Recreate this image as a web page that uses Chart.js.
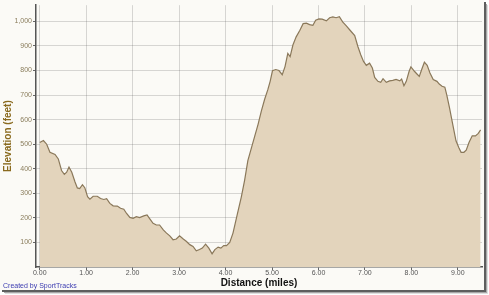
<!DOCTYPE html>
<html>
<head>
<meta charset="utf-8">
<script src="https://cdn.jsdelivr.net/npm/chart.js@4"></script>
<style>
html,body{margin:0;padding:0;background:#fff;}
#wrap{width:489px;height:295px;position:relative;}
</style>
</head>
<body>
<div id="wrap"><canvas id="c" width="489" height="295"></canvas></div>
<script>
// Distance (miles)
const distances = [0.00,0.08,0.15,0.22,0.33,0.40,0.47,0.53,0.58,0.63,0.69,0.76,0.81,0.86,0.92,0.97,1.03,1.08,1.15,1.24,1.31,1.38,1.44,1.51,1.58,1.67,1.74,1.81,1.87,1.94,2.01,2.08,2.15,2.24,2.31,2.37,2.44,2.51,2.58,2.66,2.73,2.80,2.87,2.94,3.01,3.09,3.16,3.23,3.30,3.37,3.44,3.50,3.57,3.64,3.71,3.77,3.84,3.90,3.96,4.02,4.09,4.16,4.25,4.34,4.41,4.48,4.56,4.63,4.70,4.77,4.84,4.91,4.96,5.01,5.08,5.15,5.22,5.28,5.34,5.39,5.45,5.52,5.60,5.67,5.74,5.81,5.88,5.94,6.01,6.08,6.17,6.24,6.31,6.38,6.45,6.52,6.60,6.68,6.78,6.85,6.91,6.97,7.03,7.10,7.16,7.21,7.28,7.34,7.39,7.46,7.53,7.60,7.67,7.75,7.79,7.84,7.89,7.95,7.99,8.07,8.12,8.17,8.22,8.28,8.34,8.40,8.47,8.55,8.60,8.66,8.72,8.76,8.82,8.89,8.96,9.02,9.07,9.13,9.18,9.24,9.31,9.38,9.44,9.49];
// Elevation (feet)
const elevations = [507,515,500,467,458,440,393,377,386,407,386,346,322,319,335,323,286,276,288,288,279,275,278,259,249,248,239,235,218,202,198,205,201,208,212,196,178,171,171,151,138,127,111,114,127,114,104,91,84,66,71,77,93,77,54,71,81,77,87,87,100,138,212,286,353,433,487,534,581,635,682,722,756,799,804,800,783,816,870,857,904,937,964,991,993,987,984,1005,1010,1009,1002,1015,1018,1015,1019,998,982,964,942,897,864,837,821,830,810,772,756,752,767,752,758,760,764,758,765,738,756,796,815,796,786,776,803,834,821,790,763,756,745,736,732,702,649,581,514,487,467,467,476,507,534,534,544,558];
// Tick labels
const xTickValues = [0,1,2,3,4,5,6,7,8,9];
const yTickValues = [100,200,300,400,500,600,700,800,900,1000];
const xTitle = "Distance (miles)";
const yTitle = "Elevation (feet)";
const creditText = "Created by SportTracks";

const points = distances.map((d, i) => ({x: d, y: elevations[i]}));

const frame = {
  id: 'frame',
  beforeDraw(chart) {
    const ctx = chart.ctx;
    ctx.save();
    ctx.fillStyle = '#ffffff';
    ctx.fillRect(0, 0, 489, 295);
    ctx.fillStyle = '#fbfaf6';
    ctx.fillRect(0, 0, 484, 290);
    // shadow / border right and bottom
    ctx.fillStyle = '#5e5e5e';
    ctx.fillRect(484, 2, 2, 290);
    ctx.fillRect(2, 290, 484, 2);
    ctx.fillStyle = '#a8a8a8';
    ctx.fillRect(486, 4, 1, 289);
    ctx.fillRect(4, 292, 483, 1);
    ctx.fillStyle = '#dedede';
    ctx.fillRect(487, 5, 1, 289);
    ctx.fillRect(5, 293, 483, 1);
    ctx.restore();
  },
  afterDraw(chart) {
    const ctx = chart.ctx;
    ctx.save();
    ctx.font = '7px "Liberation Sans", Arial, sans-serif';
    ctx.fillStyle = '#3b3bb0';
    ctx.textBaseline = 'middle';
    ctx.textAlign = 'left';
    ctx.fillText(creditText, 3, 286);
    ctx.restore();
  }
};

new Chart(document.getElementById('c'), {
  type: 'line',
  data: {
    datasets: [{
      data: points,
      borderColor: '#8a785a',
      borderWidth: 1.2,
      backgroundColor: '#e3d4bc',
      fill: 'origin',
      pointRadius: 0,
      tension: 0
    }]
  },
  options: {
    responsive: false,
    animation: false,
    devicePixelRatio: 1,
    layout: { padding: { top: 3, right: 7, left: 0, bottom: 0 } },
    plugins: { legend: { display: false }, tooltip: { enabled: false } },
    scales: {
      x: {
        type: 'linear',
        min: -0.08,
        max: 9.52,
        z: 1,
        afterBuildTicks: s => { s.ticks = xTickValues.map(v => ({value: v})); },
        afterFit: s => { s.height = 28; },
        grid: { color: 'rgba(80,80,80,0.22)', lineWidth: 1, drawTicks: true, tickLength: 3, tickColor: '#666' },
        border: { display: true, color: '#555', width: 1.5 },
        ticks: {
          color: '#555',
          font: { family: '"Liberation Sans", Arial, sans-serif', size: 7 },
          padding: -1,
          maxRotation: 0,
          autoSkip: false,
          callback: v => Number(v).toFixed(2)
        },
        title: {
          display: true,
          text: xTitle,
          color: '#111',
          font: { family: '"Liberation Sans Narrow", "Liberation Sans", Arial, sans-serif', size: 10, weight: 'bold' },
          padding: { top: 0, bottom: 6 }
        }
      },
      y: {
        min: 0,
        max: 1066,
        z: 1,
        afterBuildTicks: s => { s.ticks = yTickValues.map(v => ({value: v})); },
        afterFit: s => { s.width = 36; },
        grid: { color: 'rgba(80,80,80,0.22)', lineWidth: 1, drawTicks: true, tickLength: 3, tickColor: '#666' },
        border: { display: true, color: '#555', width: 1.5 },
        ticks: {
          color: '#8a7d5c',
          font: { family: '"Liberation Sans", Arial, sans-serif', size: 7 },
          padding: 1,
          autoSkip: false,
          callback: v => Number(v).toLocaleString('en-US')
        },
        title: {
          display: true,
          text: yTitle,
          color: '#8a6a1e',
          font: { family: '"Liberation Sans Narrow", "Liberation Sans", Arial, sans-serif', size: 10, weight: 'bold' },
          padding: { top: 2, bottom: 0 }
        }
      }
    }
  },
  plugins: [frame]
});
</script>
</body>
</html>
